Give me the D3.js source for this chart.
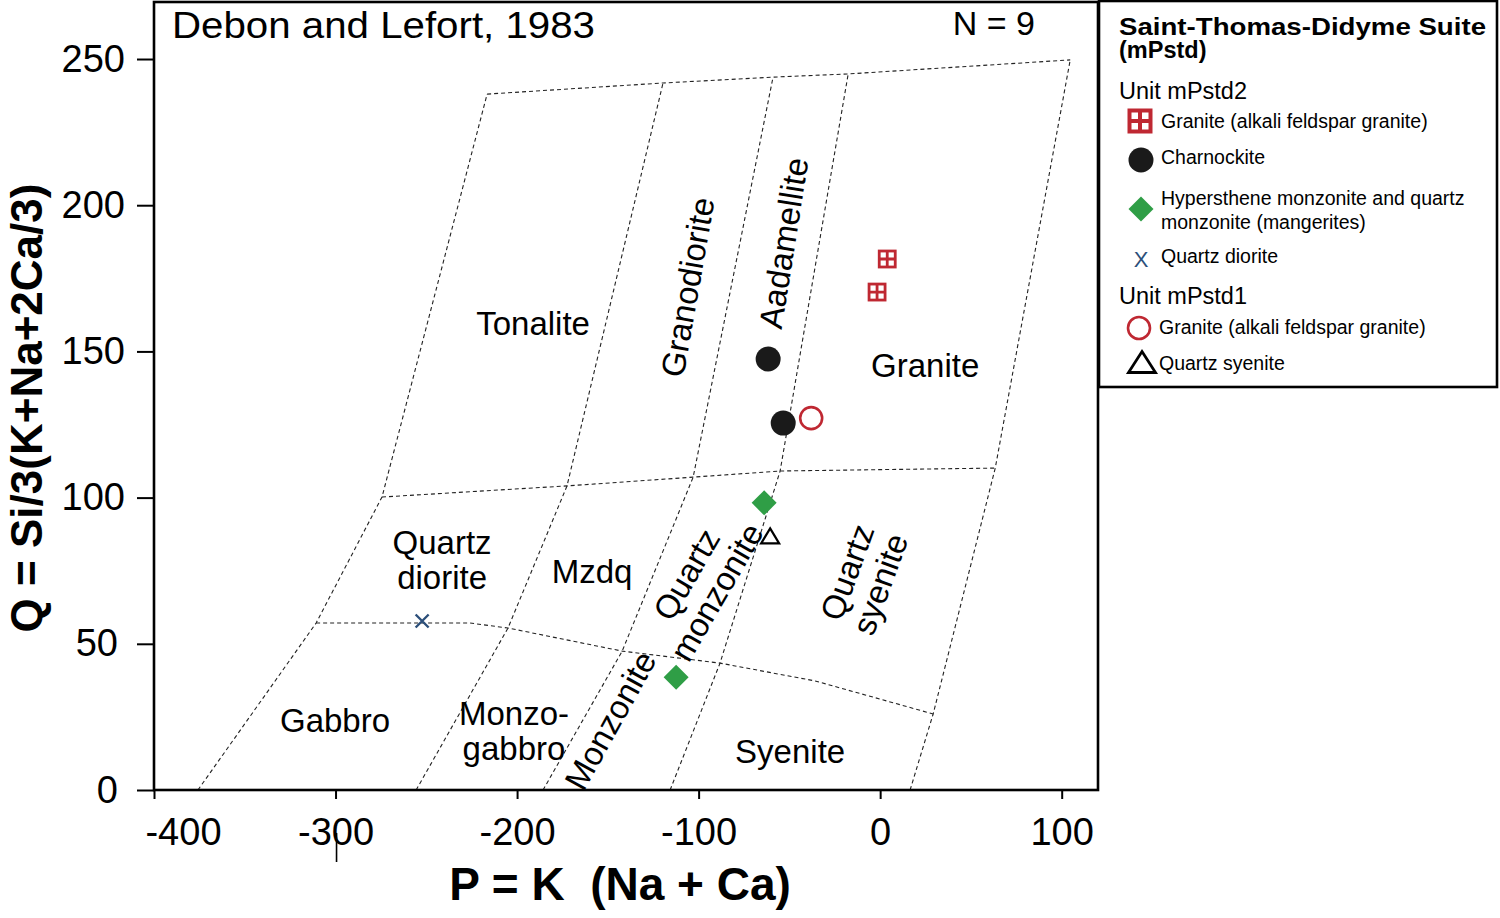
<!DOCTYPE html>
<html>
<head>
<meta charset="utf-8">
<script src="https://cdn.jsdelivr.net/npm/d3@7"></script>
<style>
  html, body { margin: 0; padding: 0; background: #fff; }
  svg text { font-family: "Liberation Sans", Arial, sans-serif; fill: #000; }
</style>
</head>
<body>
<svg id="chart" width="1500" height="918"></svg>
<script>
// Debon & Lefort (1983) P-Q diagram, Saint-Thomas-Didyme Suite samples.

// field limits, [P, Q]
const limitLeft  = [[-375.8, 0], [-310.7, 57.1], [-274.4, 100.2], [-216.5, 238.0]];
const limitTonGd = [[-255.6, 0], [-205.0, 55.4], [-172.5, 104.0], [-119.6, 241.8]];
const limitGdAd  = [[-185.7, 0], [-142.1, 47.5], [-103.0, 107.0], [-59.0, 243.8]];
const limitAdGr  = [[-115.7, 0], [-88.2, 43.4], [-55.1, 109.1], [-17.6, 244.9]];
const limitRight = [[16.5, 0], [29.2, 26.0], [63.4, 110.1], [104.7, 249.7]];
const limitTop   = [[-216.5, 238.0], [-119.6, 241.8], [-59.0, 243.8], [-17.6, 244.9], [104.7, 249.7]];
const limitQ100  = [[-274.4, 100.2], [-172.5, 104.0], [-103.0, 107.0], [-55.1, 109.1], [63.4, 110.1]];
const limitQ50   = [[-310.7, 57.1], [-225.9, 57.1], [-205.0, 55.4], [-142.1, 47.5], [-88.2, 43.4], [-35.8, 37.3], [29.2, 26.0]];

// samples, [P, Q]
const granite2      = [[3.9, 181.6], [-1.7, 170.3]];
const charnockite   = [[-61.7, 147.4], [-53.4, 125.5]];
const mangerite     = [[-63.9, 98.2], [-112.4, 38.6]];
const quartzDiorite = [[-252.3, 57.8]];
const granite1      = [[-38.0, 127.2]];
const quartzSyenite = [[-60.6, 86.9]];

// field names: lines, anchor [P, Q], rotation
const fieldNames  = [["Tonalite"], ["Granodiorite"], ["Aadamellite"], ["Granite"],
                     ["Quartz", "diorite"], ["Mzdq"], ["Quartz", "monzonite"], ["Quartz", "syenite"],
                     ["Gabbro"], ["Monzo-", "gabbro"], ["Monzonite"], ["Syenite"]];
const fieldAnchor = [[-191.2, 159.7], [-106.3, 172.0], [-53.4, 187.1], [24.8, 145.3],
                     [-241.3, 78.7], [-158.7, 74.9], [-98.6, 70.8], [-9.4, 72.5],
                     [-300.3, 23.9], [-201.7, 20.2], [-148.8, 23.9], [-49.6, 13.3]];
const fieldAngle  = [0, -80, -81, 0, 0, 0, -60, -70, 0, 0, -61, 0];

const xTicks = [-400, -300, -200, -100, 0, 100];
const yTicks = [0, 50, 100, 150, 200, 250];

const RED = "#bf2832";
const GREEN = "#2f9e46";
const BLUE = "#2c4f7a";
const DARK = "#1a1a1a";

const svg = d3.select("#chart");
const x = d3.scaleLinear().domain([-400, 120]).range([154, 1098]);
const y = d3.scaleLinear().domain([0, 269.5]).range([790, 2]);
const line = d3.line().x(d => x(d[0])).y(d => y(d[1]));

// --- field limits (dashed)
const fields = svg.append("g");
[limitLeft, limitTonGd, limitGdAd, limitAdGr, limitRight, limitTop, limitQ100, limitQ50].forEach(pts => {
  fields.append("path")
    .attr("d", line(pts))
    .attr("fill", "none")
    .attr("stroke", "#222")
    .attr("stroke-width", 1.1)
    .attr("stroke-dasharray", "4,3");
});

// --- field names
const names = svg.append("g").attr("font-size", 33);
fieldNames.forEach((lines, i) => {
  const [p, q] = fieldAnchor[i];
  const gap = lines.length > 1 ? 35 : 0;
  const g = names.append("g")
    .attr("transform", `translate(${x(p)},${y(q)}) rotate(${fieldAngle[i]})`);
  lines.forEach((t, j) => {
    g.append("text")
      .attr("text-anchor", "middle")
      .attr("y", (j - (lines.length - 1) / 2) * gap + 12)
      .text(t);
  });
});

// --- markers
function gridSquare(g, cx, cy, s, sw){
  g.append("rect")
    .attr("x", cx - s / 2).attr("y", cy - s / 2)
    .attr("width", s).attr("height", s)
    .attr("fill", "#fff").attr("stroke", RED).attr("stroke-width", sw);
  g.append("path")
    .attr("d", `M${cx - s / 2},${cy}H${cx + s / 2}M${cx},${cy - s / 2}V${cy + s / 2}`)
    .attr("stroke", RED).attr("stroke-width", sw);
}
function diamond(g, cx, cy, r){
  g.append("path")
    .attr("d", `M${cx},${cy - r}L${cx + r},${cy}L${cx},${cy + r}L${cx - r},${cy}Z`)
    .attr("fill", GREEN);
}
function cross(g, cx, cy, r){
  g.append("path")
    .attr("d", `M${cx - r},${cy - r}L${cx + r},${cy + r}M${cx - r},${cy + r}L${cx + r},${cy - r}`)
    .attr("stroke", BLUE).attr("stroke-width", 2.4).attr("fill", "none");
}
function triangle(g, cx, cy, w, h, sw){
  g.append("path")
    .attr("d", `M${cx},${cy - h / 2}L${cx + w / 2},${cy + h / 2}L${cx - w / 2},${cy + h / 2}Z`)
    .attr("fill", "#fff").attr("stroke", "#000").attr("stroke-width", sw).attr("stroke-linejoin", "miter");
}

const pts = svg.append("g");
granite2.forEach(d => gridSquare(pts, x(d[0]), y(d[1]), 16, 2.8));
pts.selectAll("circle.ch")
  .data(charnockite).enter().append("circle")
  .attr("class", "ch")
  .attr("cx", d => x(d[0])).attr("cy", d => y(d[1]))
  .attr("r", 12.5).attr("fill", DARK);
pts.selectAll("circle.g1")
  .data(granite1).enter().append("circle")
  .attr("class", "g1")
  .attr("cx", d => x(d[0])).attr("cy", d => y(d[1]))
  .attr("r", 11).attr("fill", "#fff").attr("stroke", RED).attr("stroke-width", 2.6);
mangerite.forEach(d => diamond(pts, x(d[0]), y(d[1]), 12.5));
quartzDiorite.forEach(d => cross(pts, x(d[0]), y(d[1]), 6.5));
quartzSyenite.forEach(d => triangle(pts, x(d[0]), y(d[1]), 18, 15, 2.2));

// --- frame and axes
svg.append("rect")
  .attr("x", 154).attr("y", 2)
  .attr("width", 944).attr("height", 788)
  .attr("fill", "none").attr("stroke", "#000").attr("stroke-width", 2.6);

const xAxis = svg.append("g")
  .attr("transform", "translate(0,790)")
  .call(d3.axisBottom(x).tickValues(xTicks).tickSize(9).tickPadding(19).tickFormat(d => String(d)));
const yAxis = svg.append("g")
  .attr("transform", "translate(154,0)")
  .call(d3.axisLeft(y).tickValues(yTicks).tickSize(17).tickPadding(12).tickFormat(d => String(d)));

[xAxis, yAxis].forEach(a => {
  a.select(".domain").remove();
  a.selectAll(".tick line").attr("stroke", "#000").attr("stroke-width", 2);
  a.selectAll(".tick text")
    .attr("font-size", 38)
    .attr("font-family", "'Liberation Sans', Arial, sans-serif")
    .attr("fill", "#000");
});
// first x label sits right of its tick
xAxis.selectAll(".tick text").filter(d => d === -400).attr("dx", 29);
yAxis.selectAll(".tick text").filter(d => d < 100).attr("dx", -7);

// stray mark under -300
svg.append("line")
  .attr("x1", x(-300) + 1).attr("x2", x(-300) + 1)
  .attr("y1", 833).attr("y2", 862)
  .attr("stroke", "#000").attr("stroke-width", 1.6);

// axis titles
svg.append("text")
  .attr("x", 620).attr("y", 900)
  .attr("text-anchor", "middle")
  .attr("font-size", 46).attr("font-weight", "bold")
  .attr("xml:space", "preserve")
  .text("P = K  (Na + Ca)");
svg.append("text")
  .attr("transform", "translate(42,408) rotate(-90)")
  .attr("text-anchor", "middle")
  .attr("font-size", 44).attr("font-weight", "bold")
  .text("Q = Si/3(K+Na+2Ca/3)");

// in-plot captions
svg.append("text")
  .attr("x", 172).attr("y", 38)
  .attr("font-family", "'Open Sans', sans-serif")
  .attr("font-size", 37)
  .attr("textLength", 423).attr("lengthAdjust", "spacingAndGlyphs")
  .text("Debon and Lefort, 1983");
svg.append("text")
  .attr("x", 1035).attr("y", 35)
  .attr("text-anchor", "end")
  .attr("font-family", "'Open Sans', sans-serif")
  .attr("font-size", 34)
  .text("N = 9");

// --- legend
const lg = svg.append("g");
lg.append("rect")
  .attr("x", 1099).attr("y", 1)
  .attr("width", 398).attr("height", 386)
  .attr("fill", "#fff").attr("stroke", "#000").attr("stroke-width", 2.6);

lg.append("text").attr("x", 1119).attr("y", 35)
  .attr("font-size", 23.5).attr("font-weight", "bold")
  .attr("textLength", 367).attr("lengthAdjust", "spacingAndGlyphs")
  .text("Saint-Thomas-Didyme Suite");
lg.append("text").attr("x", 1119).attr("y", 58)
  .attr("font-size", 23.5).attr("font-weight", "bold")
  .text("(mPstd)");

lg.append("text").attr("x", 1119).attr("y", 99).attr("font-size", 23.5).text("Unit mPstd2");
lg.append("text").attr("x", 1119).attr("y", 304).attr("font-size", 23.5).text("Unit mPstd1");

const itemSize = 19.5;
gridSquare(lg, 1140, 121, 21, 4);
lg.append("text").attr("x", 1161).attr("y", 128).attr("font-size", itemSize).text("Granite (alkali feldspar granite)");

lg.append("circle").attr("cx", 1141).attr("cy", 160).attr("r", 12.5).attr("fill", DARK);
lg.append("text").attr("x", 1161).attr("y", 164).attr("font-size", itemSize).text("Charnockite");

diamond(lg, 1141, 209, 12.5);
lg.append("text").attr("x", 1161).attr("y", 205).attr("font-size", itemSize).text("Hypersthene monzonite and quartz");
lg.append("text").attr("x", 1161).attr("y", 229).attr("font-size", itemSize).text("monzonite (mangerites)");

lg.append("text").attr("x", 1141).attr("y", 267)
  .attr("text-anchor", "middle").attr("font-size", 22)
  .style("fill", BLUE).text("X");
lg.append("text").attr("x", 1161).attr("y", 263).attr("font-size", itemSize).text("Quartz diorite");

lg.append("circle").attr("cx", 1139).attr("cy", 328).attr("r", 11)
  .attr("fill", "#fff").attr("stroke", RED).attr("stroke-width", 2.6);
lg.append("text").attr("x", 1159).attr("y", 334).attr("font-size", itemSize).text("Granite (alkali feldspar granite)");

triangle(lg, 1142, 362, 27, 21, 2.8);
lg.append("text").attr("x", 1159).attr("y", 370).attr("font-size", itemSize).text("Quartz syenite");
</script>
</body>
</html>
